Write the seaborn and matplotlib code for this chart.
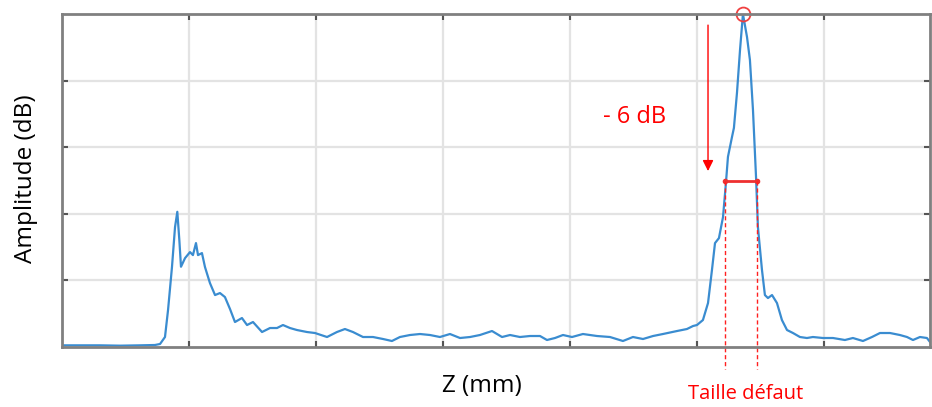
import numpy as np
import pandas as pd
import matplotlib.pyplot as plt
import seaborn as sns

# Profil d'amplitude le long de Z (amplitude normalisée)
z_mm = [0.00, 1.42, 2.99, 4.57, 6.14, 7.32, 7.72, 8.11, 8.35, 8.66, 8.90, 9.08, 9.24, 9.37,
        9.69, 10.08, 10.31, 10.55, 10.71, 11.02, 11.26, 11.65, 12.05, 12.44, 12.83, 13.23,
        13.62, 14.17, 14.57, 15.04, 15.75, 16.38, 16.93, 17.40, 17.95, 18.50, 19.29, 19.92,
        20.87, 21.65, 22.28, 22.91, 23.70, 24.49, 25.28, 25.98, 26.61, 27.40, 28.19, 28.98,
        29.76, 30.55, 31.34, 32.13, 32.91, 33.86, 34.65, 35.28, 36.06, 36.85, 37.64, 38.19,
        38.82, 39.45, 40.16, 41.02, 42.13, 43.15, 44.17, 44.96, 45.75, 46.54, 47.32, 48.43,
        49.21, 49.69, 50.00, 50.47, 50.87, 51.18, 51.42, 51.73, 52.05, 52.28, 52.44, 52.76,
        52.91, 53.15, 53.39, 53.62, 53.94, 54.17, 54.41, 54.65, 54.80, 55.12, 55.35, 55.59,
        55.91, 56.30, 56.69, 57.09, 57.56, 58.11, 58.66, 59.13, 59.92, 60.71, 61.65, 62.28,
        63.07, 63.78, 64.41, 65.20, 65.98, 66.54, 67.01, 67.56, 68.11, 68.35]
amplitude = [0.005, 0.005, 0.005, 0.004, 0.005, 0.006, 0.009, 0.030, 0.111, 0.240, 0.360, 0.406,
             0.321, 0.241, 0.267, 0.285, 0.276, 0.312, 0.276, 0.282, 0.240, 0.192, 0.156, 0.162,
             0.150, 0.114, 0.075, 0.087, 0.066, 0.075, 0.045, 0.057, 0.057, 0.066, 0.057, 0.051,
             0.045, 0.042, 0.030, 0.045, 0.054, 0.045, 0.030, 0.030, 0.024, 0.018, 0.030, 0.036,
             0.039, 0.036, 0.030, 0.039, 0.027, 0.030, 0.036, 0.048, 0.030, 0.036, 0.030, 0.033,
             0.033, 0.021, 0.027, 0.036, 0.030, 0.039, 0.033, 0.030, 0.018, 0.030, 0.024, 0.033,
             0.039, 0.048, 0.054, 0.063, 0.066, 0.081, 0.132, 0.231, 0.312, 0.327, 0.390, 0.492,
             0.571, 0.631, 0.658, 0.763, 0.892, 1.000, 0.931, 0.862, 0.712, 0.511, 0.360, 0.231,
             0.156, 0.147, 0.156, 0.132, 0.081, 0.051, 0.042, 0.030, 0.027, 0.030, 0.027, 0.027,
             0.021, 0.027, 0.018, 0.030, 0.042, 0.042, 0.036, 0.030, 0.021, 0.030, 0.027, 0.015]

# Mesure à -6 dB
pic_z, pic_amp = 53.62, 1.0
niveau_6db = 0.5
bord_gauche, bord_droit = 52.20, 54.69

df = pd.DataFrame({"z": z_mm, "amp": amplitude})

sns.set_theme(style="whitegrid")
plt.rcParams['font.family'] = ['Open Sans', 'DejaVu Sans']

fig = plt.figure(figsize=(9.32, 4.07), dpi=100)
ax = fig.add_axes([62 / 932, 60 / 407, 868 / 932, 333 / 407])

sns.lineplot(data=df, x="z", y="amp", ax=ax, color="#3a8cd0", linewidth=1.6)

ax.set_xlim(0, 68.35)
ax.set_ylim(0, 1.0)
ax.set_xticks(np.arange(10, 61, 10))
ax.set_yticks([0.2, 0.4, 0.6, 0.8])
ax.tick_params(which="both", direction="in", length=4, width=1.5, color="#555555",
               labelbottom=False, labelleft=False, top=True, right=True,
               bottom=True, left=True)
ax.grid(True, color="#e3e3e3", linewidth=1.6)
for s in ax.spines.values():
    s.set_color("#808080")
    s.set_linewidth(2)

ax.set_xlabel("Z (mm)", fontsize=17.5, color="black")
ax.set_ylabel("Amplitude (dB)", fontsize=17.5, color="black")
ax.xaxis.set_label_coords(0.484, -0.08)
ax.yaxis.set_label_coords(-0.028, 0.505)

# annotations en rouge
ax.plot([pic_z], [pic_amp], marker="o", markersize=10, markerfacecolor="none",
        markeredgecolor="#f04040", markeredgewidth=1.3, clip_on=False)
ax.annotate("", xy=(50.87, 0.52), xytext=(50.87, 0.975),
            arrowprops=dict(arrowstyle="-|>", color="red", lw=1.0, mutation_scale=16))
ax.text(45.1, 0.69, "- 6 dB", color="red", fontsize=17, ha="center", va="center")
ax.plot([bord_gauche, bord_droit], [niveau_6db, niveau_6db], color="#ee3030", lw=2,
        marker="o", markersize=3)
for zb in [bord_gauche, bord_droit]:
    ax.plot([zb, zb], [niveau_6db, -0.065], color="#ff2020", lw=1.0, ls=(0, (3, 2)),
            clip_on=False)
ax.text(53.8, -0.14, "Taille défaut", color="red", fontsize=14.5, ha="center",
        va="center", clip_on=False)

fig.savefig("out.png", dpi=100)
